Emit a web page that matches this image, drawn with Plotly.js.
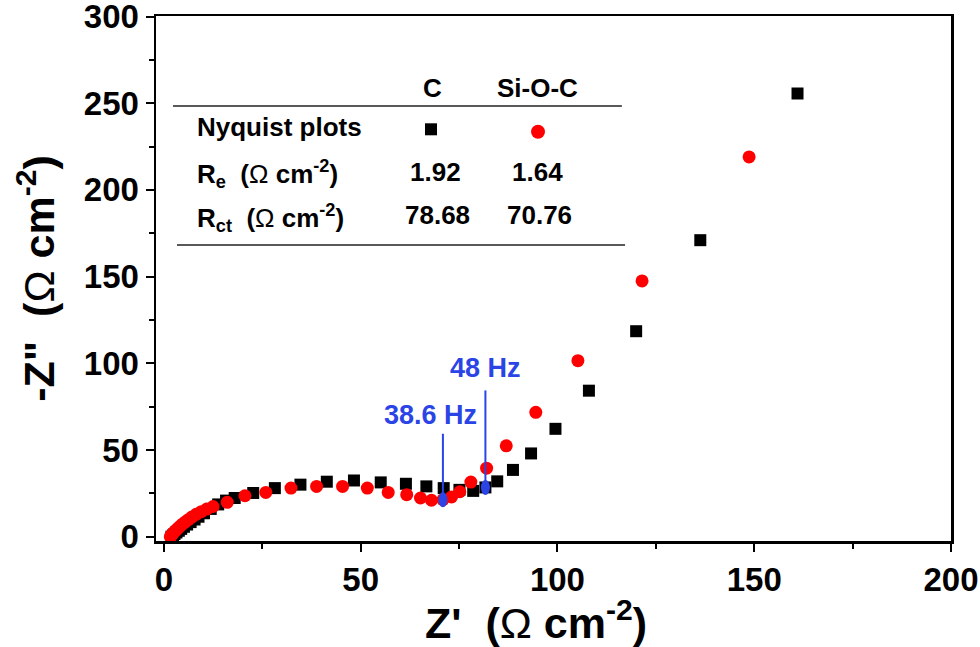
<!DOCTYPE html>
<html>
<head>
<meta charset="utf-8">
<script src="https://cdn.plot.ly/plotly-3.0.1.min.js"></script>
<style>html,body{margin:0;padding:0;background:#fff;}#chart{width:980px;height:647px;}</style>
</head>
<body>
<div id="chart"></div>
<script>
// C electrode (black squares)
const cX = [1.92, 2.3, 2.7, 3.2, 3.8, 4.4, 5.1, 5.9, 6.8, 7.8, 8.8, 10.2, 11.9, 13.8, 15.8, 18.0, 22.7, 28.2, 34.7, 41.4, 48.3, 55.1, 61.5, 66.7, 71.1, 75.1, 78.6, 81.7, 84.7, 88.7, 93.3, 99.5, 108.0, 120.0, 136.3, 161.0];
const cY = [0, 0.7, 1.5, 2.4, 3.4, 4.5, 5.7, 7.0, 8.4, 9.9, 11.5, 13.5, 16.0, 18.6, 20.8, 22.3, 25.2, 28.0, 30.0, 31.7, 32.4, 31.3, 30.5, 29.0, 28.0, 27.0, 26.4, 28.4, 31.9, 38.5, 48.0, 62.2, 84.2, 118.5, 171.0, 255.6];
// Si-O-C electrode (red circles)
const sX = [1.64, 1.85, 2.1, 2.4, 2.75, 3.15, 3.6, 4.1, 4.7, 5.4, 6.2, 7.1, 8.2, 9.5, 10.9, 12.5, 16.1, 20.6, 25.9, 32.3, 38.8, 45.4, 51.7, 57.0, 61.7, 65.2, 68.0, 70.9, 73.1, 75.2, 78.0, 82.0, 87.0, 94.5, 105.2, 121.5, 148.7];
const sY = [0, 0.6, 1.3, 2.1, 3.0, 3.9, 4.9, 6.0, 7.2, 8.4, 9.8, 11.3, 12.9, 14.4, 15.9, 17.4, 19.8, 23.6, 25.5, 28.0, 29.0, 29.0, 28.0, 25.5, 24.2, 22.3, 21.0, 21.3, 22.9, 25.9, 31.5, 39.5, 52.4, 71.7, 101.5, 147.5, 219.0];

// Table content
const OMEGA = '<span style="font-weight:normal">\u03a9</span>';
const tableHeaders = ['C', 'Si-O-C'];
const tableRowLabels = ['Nyquist plots', 'R<sub>e</sub>\u00a0 (' + OMEGA + ' cm<sup>-2</sup>)', 'R<sub>ct</sub>\u00a0 (' + OMEGA + ' cm<sup>-2</sup>)'];
const reValues = ['1.92', '1.64'];
const rctValues = ['78.68', '70.76'];

// Frequency markers: label, series, point index
const freqLabels = ['38.6 Hz', '48 Hz'];
const freqSeries = ['s', 'c'];
const freqIndex = [27, 27];

const xTicks = [0, 50, 100, 150, 200];
const yTicks = [0, 50, 100, 150, 200, 250, 300];
const xTitle = "Z'\u00a0\u00a0(" + OMEGA + " cm<sup>-2</sup>)";
const yTitle = '-Z"\u00a0\u00a0(' + OMEGA + ' cm<sup>-2</sup>)';

const FONT = 'Liberation Sans, Arial, sans-serif';
const BLUE = '#2b44e6';

const traces = [
  {x: cX, y: cY, type: 'scatter', mode: 'markers', name: 'C',
   marker: {symbol: 'square', size: 12, color: '#000000'}},
  {x: sX, y: sY, type: 'scatter', mode: 'markers', name: 'Si-O-C',
   marker: {symbol: 'circle', size: 13, color: '#ff0000'}},
  // table keys on hidden overlay axes (0..1)
  {x: [0.3459], y: [0.7842], xaxis: 'x2', yaxis: 'y2', type: 'scatter', mode: 'markers',
   marker: {symbol: 'square', size: 12, color: '#000000'}, hoverinfo: 'skip'},
  {x: [0.4805], y: [0.7796], xaxis: 'x2', yaxis: 'y2', type: 'scatter', mode: 'markers',
   marker: {symbol: 'circle', size: 14, color: '#ff0000'}, hoverinfo: 'skip'}
];

const tf = {family: FONT, size: 26, color: '#000', weight: 'bold'};
const annotations = [];
const shapes = [];

// headers
[0.3484, 0.4805].forEach((px, i) => annotations.push({xref: 'paper', yref: 'paper', x: px, y: 0.863,
  text: tableHeaders[i], showarrow: false, xanchor: 'center', yanchor: 'middle', font: tf}));
// row labels
[0.789, 0.700, 0.616].forEach((py, i) => annotations.push({xref: 'paper', yref: 'paper', x: 0.049, y: py,
  text: tableRowLabels[i], showarrow: false, xanchor: 'left', yanchor: 'middle', font: tf}));
// values
[0.351, 0.4805].forEach((px, i) => annotations.push({xref: 'paper', yref: 'paper', x: px, y: 0.702,
  text: reValues[i], showarrow: false, xanchor: 'center', yanchor: 'middle', font: tf}));
[0.3547, 0.483].forEach((px, i) => annotations.push({xref: 'paper', yref: 'paper', x: px, y: 0.621,
  text: rctValues[i], showarrow: false, xanchor: 'center', yanchor: 'middle', font: tf}));
// table rules
shapes.push({type: 'line', xref: 'paper', yref: 'paper', x0: 0.0214, x1: 0.586, y0: 0.8286, y1: 0.8286,
  line: {color: '#222', width: 1.6}});
shapes.push({type: 'line', xref: 'paper', yref: 'paper', x0: 0.0264, x1: 0.590, y0: 0.5638, y1: 0.5638,
  line: {color: '#222', width: 1.6}});

// x-axis title (placed as annotation to match its off-centre position)
annotations.push({xref: 'paper', yref: 'paper', x: 0.478, y: -0.150, text: xTitle, showarrow: false,
  xanchor: 'center', yanchor: 'middle', font: {family: FONT, size: 43, color: '#000', weight: 'bold'}});

// frequency markers
const lineLen = [66, 97];
const labelShift = [[-12, 85], [0, 119]];
freqLabels.forEach((lab, i) => {
  const xs = freqSeries[i] === 's' ? sX : cX;
  const ys = freqSeries[i] === 's' ? sY : cY;
  const px = xs[freqIndex[i]], py = ys[freqIndex[i]];
  shapes.push({type: 'line', xref: 'x', yref: 'y', xsizemode: 'pixel', ysizemode: 'pixel',
    xanchor: px, yanchor: py, x0: 0, x1: 0, y0: 0, y1: lineLen[i], line: {color: BLUE, width: 2}});
  shapes.push({type: 'circle', xref: 'x', yref: 'y', xsizemode: 'pixel', ysizemode: 'pixel',
    xanchor: px, yanchor: py, x0: -4.5, x1: 4.5, y0: -7.5, y1: 7.5,
    fillcolor: BLUE, line: {color: BLUE, width: 0}});
  annotations.push({xref: 'x', yref: 'y', x: px, y: py, text: lab, showarrow: false,
    xanchor: 'center', yanchor: 'middle', xshift: labelShift[i][0], yshift: labelShift[i][1],
    font: {family: FONT, size: 27, color: BLUE, weight: 'bold'}});
});

const axisCommon = {
  showline: true, linecolor: '#000', linewidth: 2.5, mirror: true,
  ticks: 'outside', ticklen: 8, tickwidth: 2, tickcolor: '#000',
  showgrid: false, zeroline: false, ticklabeloverflow: 'allow',
  tickfont: {family: FONT, size: 33, color: '#000', weight: 'bold'},
  minor: {ticks: 'outside', ticklen: 5, tickwidth: 2, tickcolor: '#000', showgrid: false}
};

const layout = {
  width: 980, height: 647,
  margin: {l: 156, r: 29, t: 16, b: 106},
  paper_bgcolor: '#fff', plot_bgcolor: '#fff',
  showlegend: false,
  xaxis: Object.assign({}, axisCommon, {
    range: [-2, 200], tickvals: xTicks, ticktext: xTicks.map(String),
    minor: Object.assign({}, axisCommon.minor, {dtick: 25, tick0: 0})
  }),
  yaxis: Object.assign({}, axisCommon, {
    range: [-2.5, 300.3], tickvals: yTicks, ticktext: yTicks.map(String),
    minor: Object.assign({}, axisCommon.minor, {dtick: 25, tick0: 0}),
    title: {text: yTitle, standoff: 16,
      font: {family: FONT, size: 43, color: '#000', weight: 'bold'}}
  }),
  xaxis2: {overlaying: 'x', anchor: 'y2', range: [0, 1], visible: false, fixedrange: true},
  yaxis2: {overlaying: 'y', anchor: 'x2', range: [0, 1], visible: false, fixedrange: true},
  annotations: annotations,
  shapes: shapes
};

Plotly.newPlot('chart', traces, layout, {staticPlot: true});
</script>
</body>
</html>
